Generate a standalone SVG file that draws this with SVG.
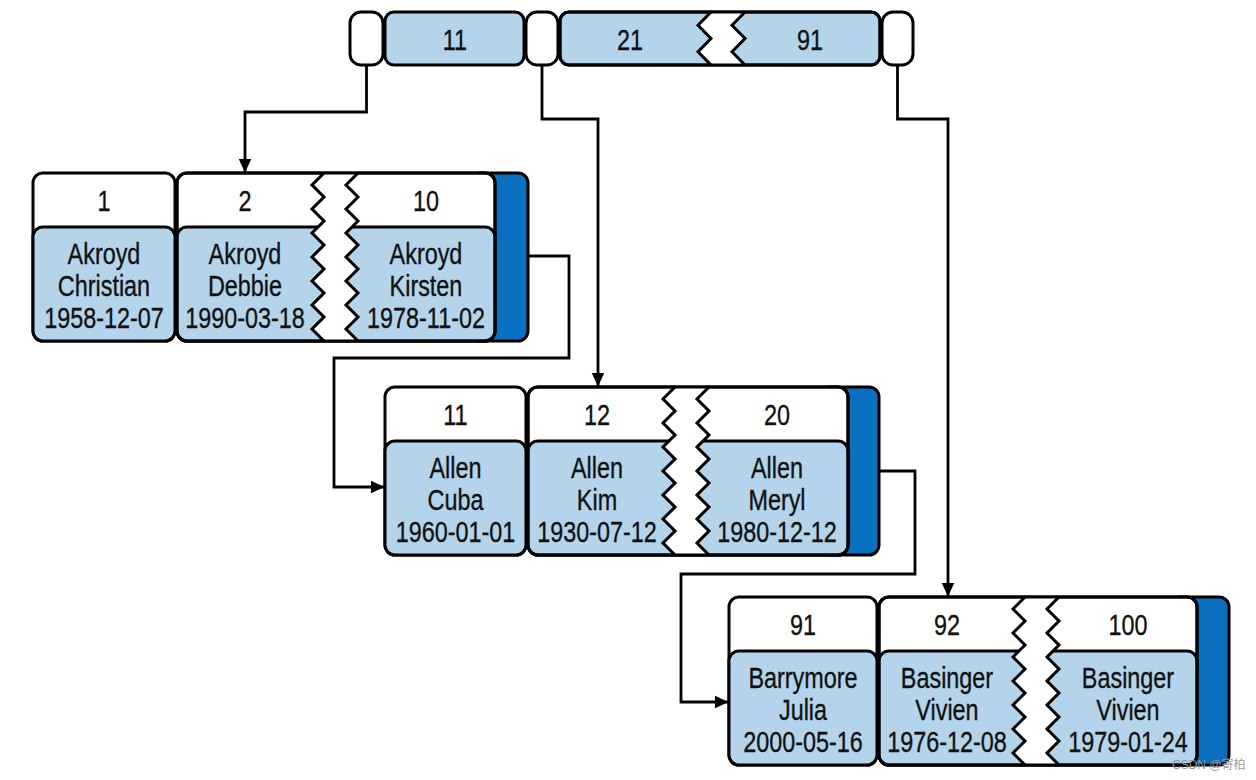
<svg xmlns="http://www.w3.org/2000/svg" xmlns:xlink="http://www.w3.org/1999/xlink" width="1256" height="780" viewBox="0 0 1256 780">
<style>
.cw{fill:#fff;stroke:#000;stroke-width:3}
.cb{fill:#b4d4ec;stroke:#000;stroke-width:3}
.band{fill:#0b70bf;stroke:#000;stroke-width:3}
.frame{fill:none;stroke:#000;stroke-width:3}
.gap{fill:#fff;stroke:none}
.zz{fill:none;stroke:#000;stroke-width:3;stroke-linejoin:miter}
.conn path{fill:none;stroke:#000;stroke-width:2.8;marker-end:url(#arr)}
.tx text{font-family:"Liberation Sans",Arial,sans-serif;font-size:30px;text-anchor:middle;fill:#111;stroke:#111;stroke-width:0.35}
text.wm{font-family:"Liberation Sans","Noto Sans CJK SC",sans-serif;font-size:12px;text-anchor:start;fill:#9a9a9a}
</style>
<defs>
<marker id="arr" viewBox="0 0 14 14" refX="13.5" refY="7" markerWidth="14" markerHeight="14" markerUnits="userSpaceOnUse" orient="auto"><path d="M0,0.5 L14,7 L0,13.5 z" fill="#000"/></marker>
<path id="zzL" d="M12,0 l-12,12 12,12 -12,12 12,12 -12,12 12,12 -12,12 12,12 -12,12 12,12 -12,12 12,12 -12,12 12,12"/>
<path id="gapL" d="M12,0 l-12,12 12,12 -12,12 12,12 -12,12 12,12 -12,12 12,12 -12,12 12,12 -12,12 12,12 -12,12 12,12 h34 l-12,-12 12,-12 -12,-12 12,-12 -12,-12 12,-12 -12,-12 12,-12 -12,-12 12,-12 -12,-12 12,-12 -12,-12 12,-12 z"/>
<path id="zzR" d="M13,0 l-13,13.25 13,13.25 -13,13.25 13,13.25"/>
<path id="gapR" d="M13,0 l-13,13.25 13,13.25 -13,13.25 13,13.25 h34 l-13,-13.25 13,-13.25 -13,-13.25 13,-13.25 z"/>
</defs>
<rect width="1256" height="780" fill="#fff"/>

<g id="root">
<rect class="cw" x="350" y="12" width="33" height="53" rx="11"/>
<rect class="cb" x="385" y="12" width="139" height="53" rx="9"/>
<rect class="cw" x="526" y="12" width="32" height="53" rx="11"/>
<rect class="cb" x="560" y="12" width="320" height="53" rx="9"/>
<use href="#gapR" xlink:href="#gapR" x="698" y="12" class="gap"/>
<use href="#zzR" xlink:href="#zzR" x="698" y="12" class="zz"/>
<use href="#zzR" xlink:href="#zzR" x="732" y="12" class="zz"/>
<rect class="frame" x="560" y="12" width="320" height="53" rx="9"/>
<rect class="cw" x="882" y="12" width="31" height="53" rx="11"/>
<g class="tx" transform="scale(0.78 1)">
<text x="583.33" y="50">11</text>
<text x="807.69" y="50">21</text>
<text x="1038.46" y="50">91</text>
</g>
</g>

<g id="leaf1">
<rect class="band" x="470" y="173" width="58" height="168" rx="10"/>
<rect class="cw" x="33" y="173" width="142" height="168" rx="10"/>
<rect class="cb" x="33" y="227" width="142" height="114" rx="10"/>
<rect class="cw" x="177" y="173" width="318" height="168" rx="10"/>
<rect class="cb" x="177" y="227" width="318" height="114" rx="10"/>
<use href="#gapL" xlink:href="#gapL" x="312" y="173" class="gap"/>
<use href="#zzL" xlink:href="#zzL" x="312" y="173" class="zz"/>
<use href="#zzL" xlink:href="#zzL" x="346" y="173" class="zz"/>
<rect class="frame" x="177" y="173" width="318" height="168" rx="10"/>
<g class="tx" transform="scale(0.78 1)">
<text x="133.33" y="211">1</text>
<text x="133.33" y="264">Akroyd</text>
<text x="133.33" y="296">Christian</text>
<text x="133.33" y="328">1958-12-07</text>
<text x="314.10" y="211">2</text>
<text x="314.10" y="264">Akroyd</text>
<text x="314.10" y="296">Debbie</text>
<text x="314.10" y="328">1990-03-18</text>
<text x="546.15" y="211">10</text>
<text x="546.15" y="264">Akroyd</text>
<text x="546.15" y="296">Kirsten</text>
<text x="546.15" y="328">1978-11-02</text>
</g>
</g>

<g id="leaf2">
<rect class="band" x="820" y="387" width="59" height="168" rx="10"/>
<rect class="cw" x="385" y="387" width="141" height="168" rx="10"/>
<rect class="cb" x="385" y="441" width="141" height="114" rx="10"/>
<rect class="cw" x="528" y="387" width="320" height="168" rx="10"/>
<rect class="cb" x="528" y="441" width="320" height="114" rx="10"/>
<use href="#gapL" xlink:href="#gapL" x="663" y="387" class="gap"/>
<use href="#zzL" xlink:href="#zzL" x="663" y="387" class="zz"/>
<use href="#zzL" xlink:href="#zzL" x="697" y="387" class="zz"/>
<rect class="frame" x="528" y="387" width="320" height="168" rx="10"/>
<g class="tx" transform="scale(0.78 1)">
<text x="583.97" y="425">11</text>
<text x="583.97" y="478">Allen</text>
<text x="583.97" y="510">Cuba</text>
<text x="583.97" y="542">1960-01-01</text>
<text x="765.38" y="425">12</text>
<text x="765.38" y="478">Allen</text>
<text x="765.38" y="510">Kim</text>
<text x="765.38" y="542">1930-07-12</text>
<text x="996.15" y="425">20</text>
<text x="996.15" y="478">Allen</text>
<text x="996.15" y="510">Meryl</text>
<text x="996.15" y="542">1980-12-12</text>
</g>
</g>

<g id="leaf3">
<rect class="band" x="1170" y="597" width="59" height="168" rx="10"/>
<rect class="cw" x="729" y="597" width="148" height="168" rx="10"/>
<rect class="cb" x="729" y="651" width="148" height="114" rx="10"/>
<rect class="cw" x="879" y="597" width="318" height="168" rx="10"/>
<rect class="cb" x="879" y="651" width="318" height="114" rx="10"/>
<use href="#gapL" xlink:href="#gapL" x="1013" y="597" class="gap"/>
<use href="#zzL" xlink:href="#zzL" x="1013" y="597" class="zz"/>
<use href="#zzL" xlink:href="#zzL" x="1047" y="597" class="zz"/>
<rect class="frame" x="879" y="597" width="318" height="168" rx="10"/>
<g class="tx" transform="scale(0.78 1)">
<text x="1029.49" y="635">91</text>
<text x="1029.49" y="688">Barrymore</text>
<text x="1029.49" y="720">Julia</text>
<text x="1029.49" y="752">2000-05-16</text>
<text x="1214.10" y="635">92</text>
<text x="1214.10" y="688">Basinger</text>
<text x="1214.10" y="720">Vivien</text>
<text x="1214.10" y="752">1976-12-08</text>
<text x="1446.15" y="635">100</text>
<text x="1446.15" y="688">Basinger</text>
<text x="1446.15" y="720">Vivien</text>
<text x="1446.15" y="752">1979-01-24</text>
</g>
</g>

<g id="connectors" class="conn">
<path d="M366.5,65 V112 H245 V172"/>
<path d="M542,65 V119 H598 V386"/>
<path d="M897.5,65 V119 H948 V596"/>
<path d="M528,256 H569 V358 H334 V487 H384"/>
<path d="M879,471 H915 V574 H681 V702 H728"/>
</g>

<text class="wm" x="1172" y="769">CSDN @寄柏</text>
</svg>
